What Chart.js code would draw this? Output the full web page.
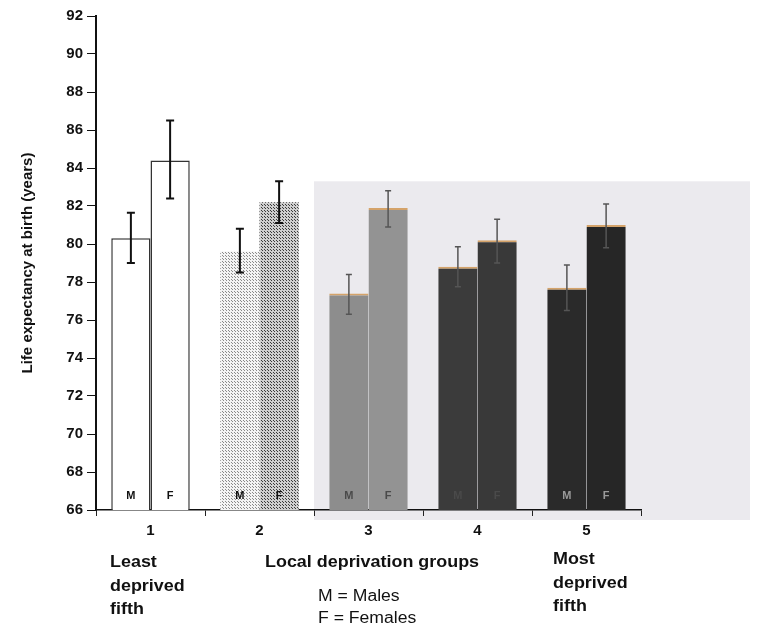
<!DOCTYPE html>
<html lang="en">
<head>
  <meta charset="UTF-8">
  <title>Life expectancy at birth by local deprivation group</title>
  <script src="https://cdn.jsdelivr.net/npm/chart.js"></script>
  <style>
    body { margin: 0; background: #fff; }
    canvas { display: block; }
  </style>
</head>
<body>

  <canvas id="lifeChart" width="758" height="627"></canvas>

  <script>
    // values
    const groups = ['1', '2', '3', '4', '5'];
    const males = [80.3, 79.6, 77.4, 78.8, 77.7];
    const females = [84.4, 82.2, 81.9, 80.2, 81.0];
    const malesLow = [79.0, 78.5, 76.3, 77.75, 76.5];
    const malesHigh = [81.65, 80.8, 78.4, 79.85, 78.9];
    const femalesLow = [82.4, 81.1, 80.9, 79.0, 79.8];
    const femalesHigh = [86.5, 83.3, 82.8, 81.3, 82.1];
    const yTicks = [66, 92, 2]; // min, max, step

    // stippled fills for group 2
    function dots(bg, dot, step) {
      const c = document.createElement('canvas');
      c.width = step; c.height = step;
      const g = c.getContext('2d');
      g.fillStyle = bg;
      g.fillRect(0, 0, step, step);
      g.fillStyle = dot;
      g.fillRect(0, 0, 1, 1);
      g.fillRect(Math.floor(step / 2), Math.floor(step / 2), 1, 1);
      return g.createPattern(c, 'repeat');
    }
    const stippleM = dots('#f4f4f4', '#8a8a8a', 3);
    const stippleF = dots('#cfcfcf', '#3a3a3a', 3);

    const maleColors = ['#ffffff', stippleM, '#8d8d8d', '#3b3b3b', '#2a2a2a'];
    const femaleColors = ['#ffffff', stippleF, '#939393', '#393939', '#262626'];
    const labelColors = ['#111', '#111', '#4a4a4a', '#4a4a4a', '#9a9a9a'];

    const barBorder = ctx => ctx.dataIndex === 0 ? 1.5 :
      ctx.dataIndex === 1 ? 0 : { top: 2, left: 0, right: 0, bottom: 0 };
    const barBorderColor = ctx => ctx.dataIndex === 0 ? '#333' : '#d4a36a';

    // the scan is a little stretched sideways, so widen the notes
    function wideText(ctx, text, x, y, sx) {
      ctx.save();
      ctx.translate(x, y);
      ctx.scale(sx, 1);
      ctx.fillText(text, 0, 0);
      ctx.restore();
    }

    const extras = {
      id: 'extras',
      beforeDraw(chart) {
        const { ctx, scales: { x, y }, chartArea } = chart;
        ctx.save();
        ctx.fillStyle = '#fff';
        ctx.fillRect(0, 0, chart.width, chart.height);
        // grey scan panel behind groups 3-5
        const px = (x.getPixelForValue(1) + x.getPixelForValue(2)) / 2;
        const py = y.getPixelForValue(83.3);
        ctx.fillStyle = '#ebeaee';
        ctx.fillRect(px, py, chart.width - 8 - px, chartArea.bottom + 10 - py);
        ctx.restore();
      },
      afterDatasetsDraw(chart) {
        const { ctx, scales: { y }, chartArea } = chart;
        ctx.save();
        const sets = [[malesLow, malesHigh, 'M'], [femalesLow, femalesHigh, 'F']];
        sets.forEach(([lo, hi, tag], di) => {
          chart.getDatasetMeta(di).data.forEach((bar, i) => {
            const dark = i < 2;
            ctx.strokeStyle = dark ? '#111' : '#555';
            ctx.lineWidth = dark ? 2 : 1.5;
            const yl = y.getPixelForValue(lo[i]);
            const yh = y.getPixelForValue(hi[i]);
            const cap = dark ? 4 : 3;
            ctx.beginPath();
            ctx.moveTo(bar.x, yl); ctx.lineTo(bar.x, yh);
            ctx.moveTo(bar.x - cap, yl); ctx.lineTo(bar.x + cap, yl);
            ctx.moveTo(bar.x - cap, yh); ctx.lineTo(bar.x + cap, yh);
            ctx.stroke();
            // M / F tag at bar foot
            ctx.fillStyle = labelColors[i];
            ctx.font = 'bold 11px "Liberation Sans", Arial, sans-serif';
            ctx.textAlign = 'center';
            ctx.textBaseline = 'middle';
            ctx.fillText(tag, bar.x, chartArea.bottom - 14);
          });
        });

        // notes under the axis
        const base = chartArea.bottom;
        ctx.fillStyle = '#111';
        ctx.textAlign = 'left';
        ctx.textBaseline = 'middle';
        ctx.font = 'bold 16px "Liberation Sans", Arial, sans-serif';
        ['Least', 'deprived', 'fifth'].forEach((t, k) => wideText(ctx, t, 110, base + 53 + k * 23.5, 1.12));
        ['Most', 'deprived', 'fifth'].forEach((t, k) => wideText(ctx, t, 553, base + 50 + k * 23.5, 1.12));
        wideText(ctx, 'Local deprivation groups', 265, base + 53, 1.12);
        ctx.font = '16px "Liberation Sans", Arial, sans-serif';
        wideText(ctx, 'M = Males', 318, base + 87, 1.1);
        wideText(ctx, 'F = Females', 318, base + 109, 1.1);
        ctx.restore();
      }
    };

    new Chart(document.getElementById('lifeChart'), {
      type: 'bar',
      data: {
        labels: groups,
        datasets: [
          {
            label: 'Males',
            data: males,
            backgroundColor: maleColors,
            borderColor: barBorderColor,
            borderWidth: barBorder,
            categoryPercentage: 0.72,
            barPercentage: 1.0
          },
          {
            label: 'Females',
            data: females,
            backgroundColor: femaleColors,
            borderColor: barBorderColor,
            borderWidth: barBorder,
            categoryPercentage: 0.72,
            barPercentage: 1.0
          }
        ]
      },
      options: {
        responsive: false,
        animation: false,
        devicePixelRatio: 1,
        layout: { padding: { top: 16, right: 117, bottom: 87, left: 0 } },
        scales: {
          x: {
            afterFit: s => { s.height = 30; },
            grid: { offset: true, drawOnChartArea: false, tickLength: 6, color: '#222' },
            border: { color: '#111', width: 1.5 },
            ticks: {
              color: '#111',
              padding: 6,
              font: { family: '"Liberation Sans", Arial, sans-serif', size: 15, weight: 'bold' }
            }
          },
          y: {
            min: yTicks[0],
            max: yTicks[1],
            afterFit: s => { s.width = 96; },
            grid: { drawOnChartArea: false, tickLength: 9, color: '#111' },
            border: { color: '#111', width: 2 },
            ticks: {
              stepSize: yTicks[2],
              color: '#111',
              padding: 4,
              font: { family: '"Liberation Sans", Arial, sans-serif', size: 15, weight: 'bold' }
            },
            title: {
              display: true,
              text: 'Life expectancy at birth (years)',
              color: '#111',
              padding: { top: 19, bottom: 0 },
              font: { family: '"Liberation Sans", Arial, sans-serif', size: 15, weight: 'bold' }
            }
          }
        },
        plugins: {
          legend: { display: false },
          tooltip: { enabled: false }
        }
      },
      plugins: [extras]
    });
  </script>

</body>
</html>
